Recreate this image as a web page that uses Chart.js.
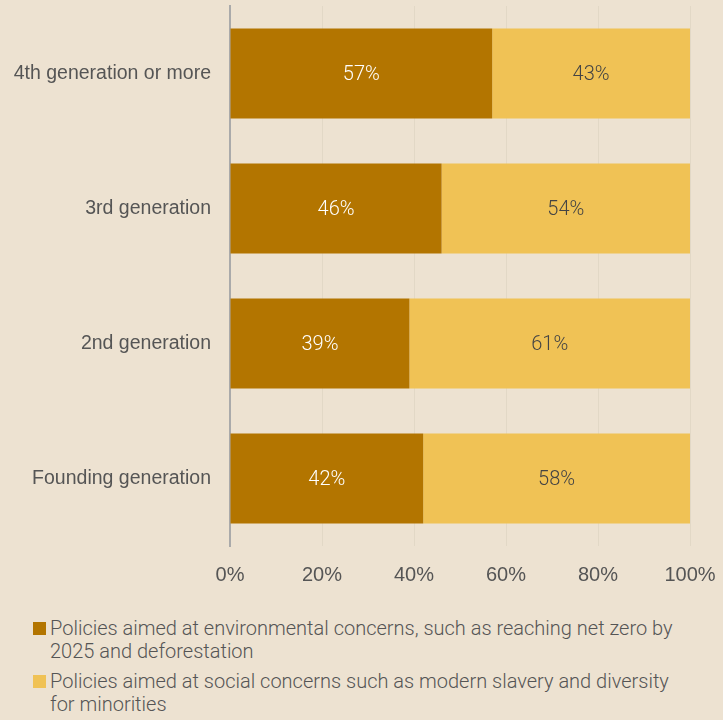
<!DOCTYPE html>
<html lang="en">
<head>
    <meta charset="UTF-8">
    <title>Policies by generation</title>
    <script src="https://cdn.jsdelivr.net/npm/chart.js"></script>
    <style>
        body {
            margin: 0;
            background: #ede2d1;
            font-family: Roboto, "Liberation Sans", sans-serif;
        }
        .chart-container {
            position: relative;
            width: 723px;
            height: 600px;
        }
        .legend {
            position: absolute;
            left: 33px;
            top: 617px;
            width: 640px;
            color: #555;
            font-size: 20px;
            font-weight: 300;
            line-height: 23px;
        }
        .legend div {
            position: relative;
            padding-left: 17px;
            margin-bottom: 7px;
        }
        .legend span {
            position: absolute;
            left: 0;
            top: 5px;
            width: 13px;
            height: 13px;
        }
    </style>
</head>
<body>
    <div class="chart-container">
        <canvas id="genChart"></canvas>
    </div>
    <div class="legend">
        <div><span style="background:#b37500"></span>Policies aimed at environmental concerns, such as reaching net zero by 2025 and deforestation</div>
        <div><span style="background:#f0c255"></span>Policies aimed at social concerns such as modern slavery and diversity for minorities</div>
    </div>

    <script>
        const generations = ['4th generation or more', '3rd generation', '2nd generation', 'Founding generation'];
        const environmental = [57, 46, 39, 42];
        const social = [43, 54, 61, 58];
        const xTicks = [0, 20, 40, 60, 80, 100];

        // writes the percentage in the middle of each bar segment
        const segmentLabels = {
            id: 'segmentLabels',
            afterDatasetsDraw(chart) {
                const ctx = chart.ctx;
                ctx.save();
                ctx.font = '300 20px Roboto, "Liberation Sans", sans-serif';
                ctx.textAlign = 'center';
                ctx.textBaseline = 'middle';
                chart.data.datasets.forEach((ds, i) => {
                    chart.getDatasetMeta(i).data.forEach((bar, j) => {
                        const mid = (bar.x + bar.base) / 2;
                        ctx.fillStyle = i === 0 ? '#ffffff' : '#444444';
                        ctx.fillText(ds.data[j] + '%', mid, bar.y + 1);
                    });
                });
                ctx.restore();
            }
        };

        const ctx = document.getElementById('genChart').getContext('2d');
        const chart = new Chart(ctx, {
            type: 'bar',
            data: {
                labels: generations,
                datasets: [{
                    label: 'Environmental',
                    data: environmental,
                    backgroundColor: '#b37500',
                    barPercentage: 1,
                    categoryPercentage: 0.667
                }, {
                    label: 'Social',
                    data: social,
                    backgroundColor: '#f0c255',
                    barPercentage: 1,
                    categoryPercentage: 0.667
                }]
            },
            options: {
                indexAxis: 'y',
                responsive: true,
                maintainAspectRatio: false,
                animation: false,
                layout: {
                    padding: { top: 6, right: 33, left: 0, bottom: 0 }
                },
                plugins: {
                    legend: { display: false },
                    tooltip: { enabled: false }
                },
                scales: {
                    x: {
                        stacked: true,
                        min: 0,
                        max: 100,
                        afterBuildTicks: scale => {
                            scale.ticks = xTicks.map(v => ({ value: v }));
                        },
                        afterFit: scale => {
                            scale.height = 54;
                            scale.paddingLeft = 0;
                            scale.paddingRight = 0;
                        },
                        grid: {
                            color: '#e2d8c6',
                            lineWidth: 1,
                            drawTicks: false
                        },
                        border: { display: false },
                        ticks: {
                            padding: 17,
                            color: '#555',
                            font: { size: 20, weight: 300 },
                            callback: v => v + '%'
                        }
                    },
                    y: {
                        stacked: true,
                        afterFit: scale => {
                            scale.width = 230;
                            scale.paddingTop = 0;
                            scale.paddingBottom = 0;
                        },
                        grid: { display: false, drawTicks: false },
                        border: { display: true, color: '#aaaaaa', width: 2 },
                        ticks: {
                            padding: 19,
                            color: '#555',
                            font: { size: 19.5, weight: 300 }
                        }
                    }
                }
            },
            plugins: [segmentLabels]
        });
    </script>
</body>
</html>
